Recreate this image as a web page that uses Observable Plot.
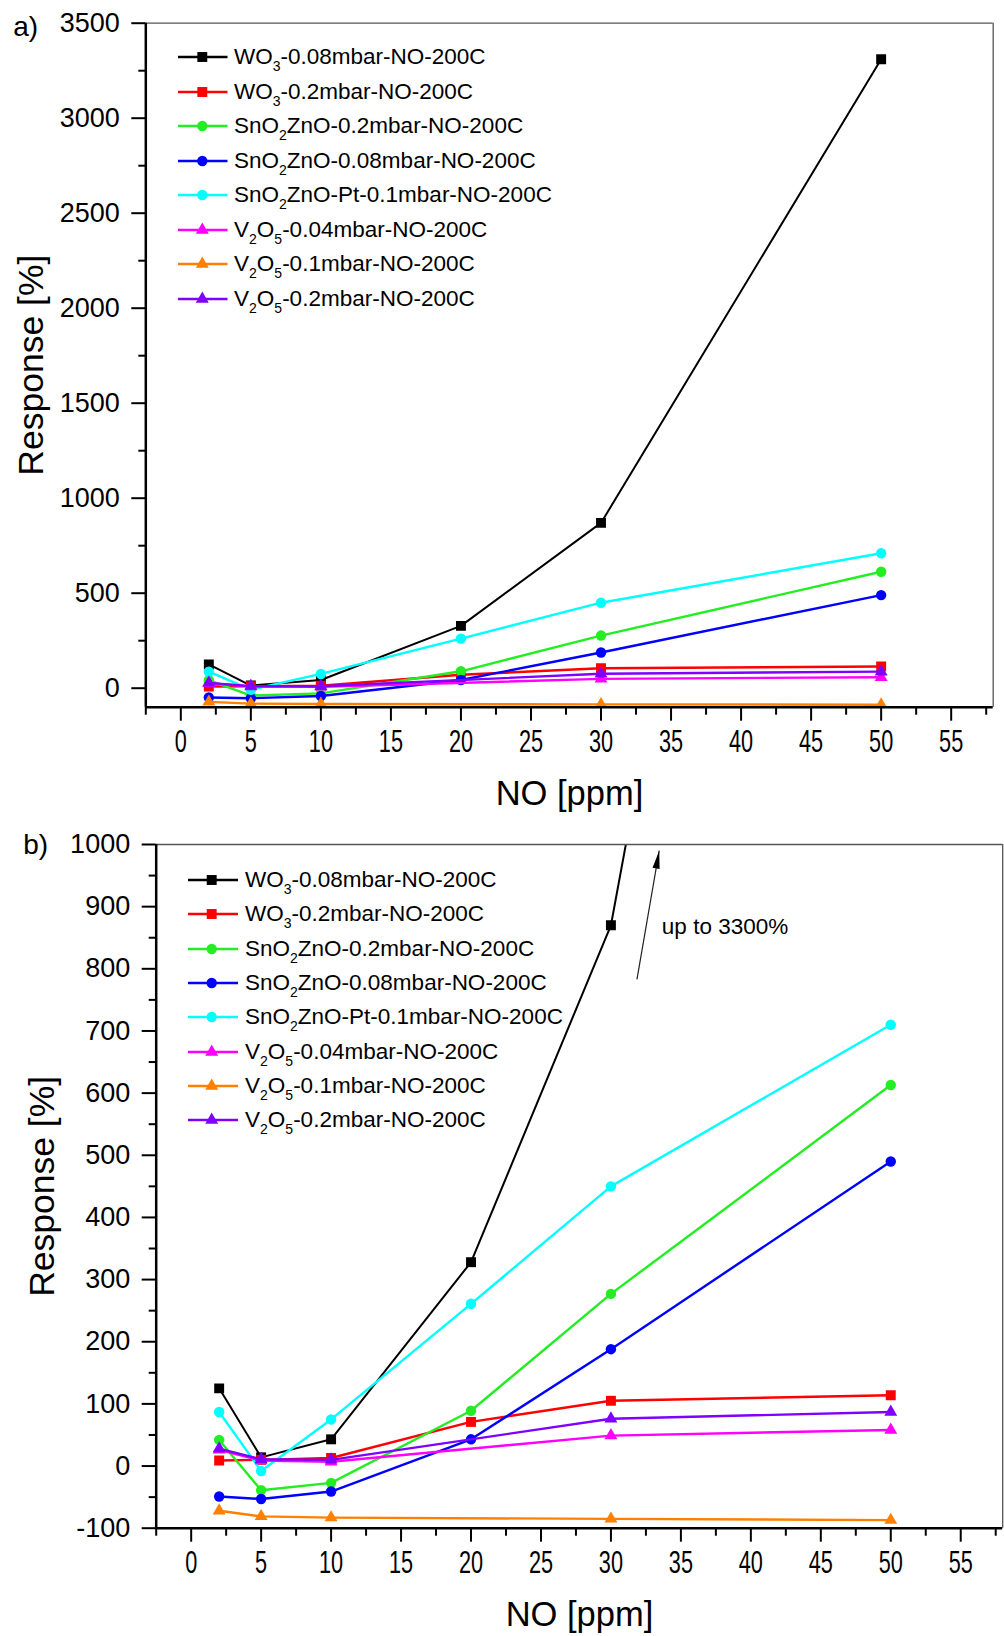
<!DOCTYPE html>
<html><head><meta charset="utf-8">
<script src="https://cdn.jsdelivr.net/npm/d3@7"></script>
<script src="https://cdn.jsdelivr.net/npm/@observablehq/plot@0.6"></script>
<style>
body{margin:0;background:#fff;}
#wrap{position:relative;width:1004px;height:1636px;font-family:"Liberation Sans",Arial,sans-serif;overflow:hidden;}
.panel{position:relative;width:1004px;}
.panel svg.plot{display:block;}
.row{position:absolute;height:24px;line-height:24px;white-space:nowrap;font-size:22.5px;color:#000;}
.row svg{position:absolute;left:0;top:0;overflow:visible;}
.row span{position:absolute;top:0;line-height:24px;}
sub{font-size:14px;vertical-align:-7px;line-height:0;}
</style></head>
<body><div id="wrap"><div class="panel" id="pa"></div><div class="panel" id="pb"></div></div>
<script>
// ---- data ----
const conc = [2, 5, 10, 20, 30, 50];          // NO [ppm]
const concV = [2, 5, 10, 30, 50];             // V2O5 series: no 20 ppm point
const wo3_008   = [125, 14, 43, 328, 870, 3310];
const wo3_02    = [9, 10, 13, 71, 105, 114];
const sno2_02   = [42, -39, -27, 89, 277, 613];
const sno2_008  = [-49, -53, -41, 43, 188, 490];
const sno2pt_01 = [87, -8, 75, 261, 450, 710];
const v2o5_004  = [26, 9, 7, 49, 58];
const v2o5_01   = [-72, -81, -83, -85, -87];
const v2o5_02   = [28, 11, 10, 76, 87];

const seriesLabels = [
  "WO<sub>3</sub>-0.08mbar-NO-200C",
  "WO<sub>3</sub>-0.2mbar-NO-200C",
  "SnO<sub>2</sub>ZnO-0.2mbar-NO-200C",
  "SnO<sub>2</sub>ZnO-0.08mbar-NO-200C",
  "SnO<sub>2</sub>ZnO-Pt-0.1mbar-NO-200C",
  "V<sub>2</sub>O<sub>5</sub>-0.04mbar-NO-200C",
  "V<sub>2</sub>O<sub>5</sub>-0.1mbar-NO-200C",
  "V<sub>2</sub>O<sub>5</sub>-0.2mbar-NO-200C"
];
const seriesX = [conc, conc, conc, conc, conc, concV, concV, concV];
const seriesY = [wo3_008, wo3_02, sno2_02, sno2_008, sno2pt_01, v2o5_004, v2o5_01, v2o5_02];
const seriesColors = ["#000000", "#ff0000", "#22ee22", "#0000ff", "#00ffff", "#ff00ff", "#ff8000", "#8000ff"];
const seriesSymbols = ["square", "square", "circle", "circle", "circle", "triangle", "triangle", "triangle"];

const xDomain = [-2.5, 58];
const xTicksMajor = [0, 5, 10, 15, 20, 25, 30, 35, 40, 45, 50, 55];
const xTicksMinor = [-2.5, 2.5, 7.5, 12.5, 17.5, 22.5, 27.5, 32.5, 37.5, 42.5, 47.5, 52.5, 57.5];

const yDomainA = [-100, 3500];
const yTicksA = [0, 500, 1000, 1500, 2000, 2500, 3000, 3500];
const yMinorA = [250, 750, 1250, 1750, 2250, 2750, 3250];
const yDomainB = [-100, 1000];
const yTicksB = [-100, 0, 100, 200, 300, 400, 500, 600, 700, 800, 900, 1000];
const yMinorB = [-50, 50, 150, 250, 350, 450, 550, 650, 750, 850, 950];

const noteArrow = [{x1: 31.86, y1: 783, x2: 33.45, y2: 990}];
const noteText = [{x: 33.64, y: 867, text: "up to 3300%"}];

// ---- build ----
const symR = {square: 5.6, circle: 5.2, triangle: 4.8};
const series = seriesLabels.map((label, i) => ({
  label, color: seriesColors[i], symbol: seriesSymbols[i],
  rows: seriesX[i].map((x, j) => ({x, y: seriesY[i][j]}))
}));

const arrowHead = {
  draw(ctx) {
    const a = 10 * Math.PI / 180, c = Math.cos(a), s = Math.sin(a);
    const pts = [[0, 0], [-3.6, 18], [3.6, 18]].map(([x, y]) => [x * c - y * s, x * s + y * c]);
    ctx.moveTo(pts[0][0], pts[0][1]);
    ctx.lineTo(pts[1][0], pts[1][1]);
    ctx.lineTo(pts[2][0], pts[2][1]);
    ctx.closePath();
  }
};

function makePanel(opts) {
  const {height, mt, mb, ml, mr, yDomain, yTicks, yMinor, tag, extra} = opts;
  const marks = [];
  series.forEach(s => {
    marks.push(Plot.line(s.rows, {x: "x", y: "y", stroke: s.color, strokeWidth: s.color === "#000000" ? 2 : 2.4, clip: true}));
    marks.push(Plot.dot(s.rows, {x: "x", y: "y", fill: s.color, symbol: s.symbol, r: symR[s.symbol], clip: true}));
  });
  marks.push(...extra);
  marks.push(
    Plot.ruleY([yDomain[1]], {stroke: "#555", strokeWidth: 1.3}),
    Plot.ruleX([xDomain[1]], {stroke: "#555", strokeWidth: 1.3}),
    Plot.axisX({ticks: xTicksMajor, tickSize: 14, tickPadding: 9, fontSize: 31, strokeWidth: 2, label: null, tickFormat: d => String(d)}),
    Plot.axisX({ticks: xTicksMinor, tickSize: 8, strokeWidth: 2, label: null, tickFormat: () => ""}),
    Plot.axisY({ticks: yTicks, tickSize: 14, tickPadding: 12, fontSize: 27, strokeWidth: 2, label: null, tickFormat: d => String(d)}),
    Plot.axisY({ticks: yMinor, tickSize: 7, strokeWidth: 2, label: null, tickFormat: () => ""}),
    Plot.ruleX([xDomain[0]], {stroke: "#000", strokeWidth: 2.5}),
    Plot.ruleY([yDomain[0]], {stroke: "#000", strokeWidth: 2.5}),
    Plot.text(["NO [ppm]"], {text: d => d, frameAnchor: "bottom", dy: 87, lineAnchor: "middle", fontSize: 34.5}),
    Plot.text(["Response [%]"], {text: d => d, frameAnchor: "left", rotate: -90, dx: -114, lineAnchor: "middle", textAnchor: "middle", fontSize: 35.5}),
    Plot.text([tag], {text: d => d, frameAnchor: "top-left", dx: opts.tagDx, dy: opts.tagDy, textAnchor: "start", lineAnchor: "middle", fontSize: 28})
  );
  const svg = Plot.plot({
    width: 1004, height,
    marginTop: mt, marginBottom: mb, marginLeft: ml, marginRight: mr,
    x: {domain: xDomain},
    y: {domain: yDomain},
    style: {fontFamily: '"Liberation Sans", Arial, sans-serif', background: "white", color: "black", overflow: "visible"},
    marks
  });
  svg.classList.add("plot");
  // condensed x tick labels like the reference
  d3.select(svg).selectAll('[aria-label="x-axis tick label"] text').each(function () {
    const t = d3.select(this);
    const tr = t.attr("transform");
    if (tr) t.attr("transform", tr + " scale(0.7,1)");
    else {
      const x = +t.attr("x") || 0, y = +t.attr("y") || 0;
      t.attr("x", null).attr("y", null).attr("transform", `translate(${x},${y}) scale(0.7,1)`);
    }
  });
  return svg;
}

function addLegend(container, L) {
  series.forEach((s, i) => {
    const cy = L.y0 + L.dy * i;
    const row = document.createElement("div");
    row.className = "row";
    row.style.left = L.x0 + "px";
    row.style.top = (cy - 12) + "px";
    const w = L.x1 - L.x0;
    const svg = d3.create("svg").attr("width", w).attr("height", 24);
    svg.append("line").attr("x1", 0).attr("x2", w).attr("y1", 12).attr("y2", 12)
      .attr("stroke", s.color).attr("stroke-width", 2.4);
    const type = s.symbol === "square" ? d3.symbolSquare : s.symbol === "circle" ? d3.symbolCircle : d3.symbolTriangle;
    const r = symR[s.symbol];
    svg.append("path").attr("transform", `translate(${L.xm - L.x0},12)`)
      .attr("d", d3.symbol(type, r * r * Math.PI)()).attr("fill", s.color);
    row.appendChild(svg.node());
    const span = document.createElement("span");
    span.style.left = (L.xt - L.x0) + "px";
    span.innerHTML = s.label;
    row.appendChild(span);
    container.appendChild(row);
  });
}

const pa = document.getElementById("pa");
pa.appendChild(makePanel({height: 820, mt: 22.7, mb: 113.3, ml: 145.3, mr: 11.3,
  yDomain: yDomainA, yTicks: yTicksA, yMinor: yMinorA, tag: "a)", tagDx: -132.5, tagDy: 4, extra: []}));
addLegend(pa, {x0: 177.5, x1: 227, xm: 201.8, xt: 234, y0: 57.3, dy: 34.5});

const pb = document.getElementById("pb");
pb.appendChild(makePanel({height: 816, mt: 24, mb: 108.3, ml: 155.7, mr: 1.8,
  yDomain: yDomainB, yTicks: yTicksB, yMinor: yMinorB, tag: "b)", tagDx: -133, tagDy: 1,
  extra: [
    Plot.link(noteArrow, {x1: "x1", y1: "y1", x2: "x2", y2: "y2", stroke: "#222", strokeWidth: 1.2}),
    Plot.dot(noteArrow, {x: "x2", y: "y2", symbol: arrowHead, fill: "#000", r: 3}),
    Plot.text(noteText, {x: "x", y: "y", text: "text", textAnchor: "start", lineAnchor: "middle", fontSize: 22.5})
  ]}));
addLegend(pb, {x0: 188, x1: 238, xm: 211.7, xt: 245, y0: 60, dy: 34.3});
</script>
</body></html>
